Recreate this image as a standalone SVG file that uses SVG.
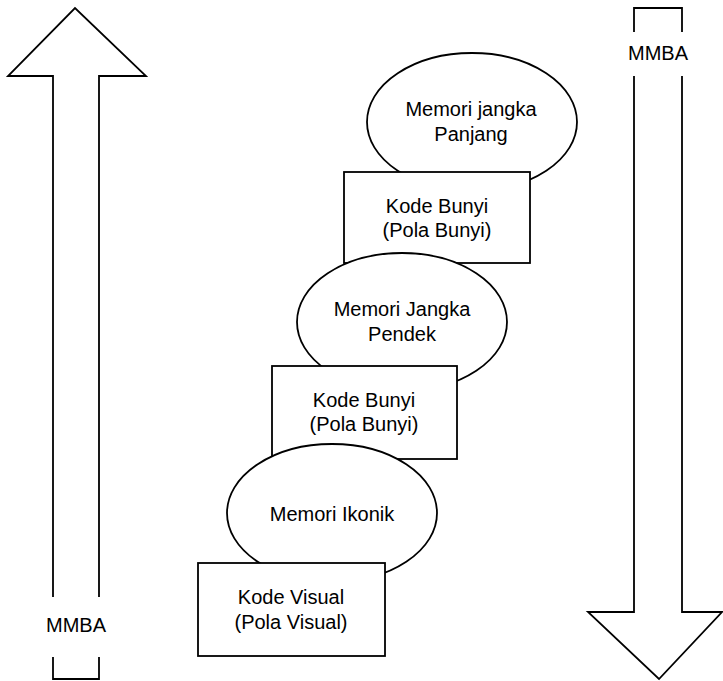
<svg xmlns="http://www.w3.org/2000/svg" width="723" height="681" viewBox="0 0 723 681">
  <style>
    .shape { fill: #ffffff; stroke: #000000; stroke-width: 1.8; }
    .arrow { fill: none; stroke: #000000; stroke-width: 1.8; stroke-linejoin: miter; }
    .label { font-family: "Liberation Sans", Arial, sans-serif; font-size: 20px; fill: #000000; text-anchor: middle; }
  </style>
  <rect width="723" height="681" fill="#ffffff"/>

  <!-- Side arrows -->
  <g id="connectors">
    <g id="arrow-up">
      <path class="arrow" d="M53,597 V76 H8 L75,8 L146,76 H99 V597"/>
      <path class="arrow" d="M53,657 V679 H99 V657"/>
      <text class="label" x="76" y="632">MMBA</text>
    </g>
    <g id="arrow-down">
      <path class="arrow" d="M634,32 V8 H682 V32"/>
      <path class="arrow" d="M634,76 V612 H588 L659,679 L722,612 H682 V76"/>
      <text class="label" x="658" y="60">MMBA</text>
    </g>
  </g>

  <!-- Staircase of memory stages, drawn top to bottom so each lower shape overlaps the one above -->
  <g id="memori-jangka-panjang">
    <ellipse class="shape" cx="472" cy="122" rx="105" ry="69"/>
    <text class="label" x="471" y="116">Memori jangka</text>
    <text class="label" x="471" y="141">Panjang</text>
  </g>
  <g id="kode-bunyi-1">
    <rect class="shape" x="344" y="172" width="186" height="91"/>
    <text class="label" x="437" y="213">Kode Bunyi</text>
    <text class="label" x="437" y="237">(Pola Bunyi)</text>
  </g>
  <g id="memori-jangka-pendek">
    <ellipse class="shape" cx="402" cy="322" rx="105" ry="69"/>
    <text class="label" x="402" y="316">Memori Jangka</text>
    <text class="label" x="402" y="341">Pendek</text>
  </g>
  <g id="kode-bunyi-2">
    <rect class="shape" x="272" y="366" width="185" height="93"/>
    <text class="label" x="364" y="407">Kode Bunyi</text>
    <text class="label" x="364" y="431">(Pola Bunyi)</text>
  </g>
  <g id="memori-ikonik">
    <ellipse class="shape" cx="332" cy="513" rx="105" ry="69"/>
    <text class="label" x="332" y="521">Memori Ikonik</text>
  </g>
  <g id="kode-visual">
    <rect class="shape" x="198" y="563" width="187" height="93"/>
    <text class="label" x="291" y="604">Kode Visual</text>
    <text class="label" x="291" y="629">(Pola Visual)</text>
  </g>
</svg>
